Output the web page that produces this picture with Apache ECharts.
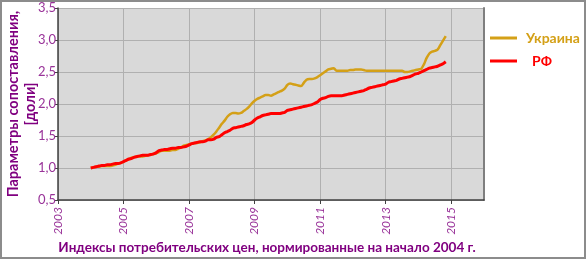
<!DOCTYPE html>
<html><head><meta charset="utf-8">
<script src="https://cdn.jsdelivr.net/npm/echarts@6/dist/echarts.min.js"></script>
<style>html,body{margin:0;padding:0;background:#fff}#c{width:586px;height:259px}</style>
</head><body><div id="c"></div>
<script>
// Monthly values, Jan 2004 .. Nov 2014
const startYear = 2004;
const ukraine = [
 1.00,1.01,1.02,1.02,1.03,1.03,1.03,1.03,1.04,1.05,1.07,1.08,
 1.10,1.12,1.14,1.16,1.17,1.18,1.18,1.18,1.19,1.20,1.21,1.22,
 1.23,1.25,1.27,1.27,1.27,1.27,1.28,1.28,1.30,1.32,1.35,1.36,
 1.37,1.38,1.39,1.39,1.40,1.42,1.43,1.45,1.48,1.52,1.57,1.63,
 1.69,1.74,1.80,1.84,1.86,1.86,1.85,1.86,1.89,1.92,1.96,2.01,
 2.05,2.08,2.10,2.12,2.14,2.14,2.13,2.15,2.17,2.19,2.21,2.24,
 2.30,2.32,2.31,2.30,2.29,2.28,2.33,2.38,2.39,2.39,2.40,2.42,
 2.45,2.48,2.51,2.54,2.55,2.56,2.52,2.52,2.52,2.52,2.52,2.53,
 2.53,2.54,2.54,2.54,2.53,2.52,2.52,2.52,2.52,2.52,2.52,2.52,
 2.52,2.52,2.52,2.52,2.52,2.52,2.52,2.50,2.50,2.51,2.52,2.53,
 2.54,2.55,2.62,2.72,2.79,2.82,2.83,2.85,2.92,2.99,3.06
];
const russia = [
 1.00,1.01,1.02,1.03,1.04,1.04,1.05,1.05,1.06,1.07,1.07,1.08,
 1.10,1.12,1.14,1.15,1.17,1.18,1.19,1.20,1.20,1.20,1.21,1.22,
 1.24,1.27,1.28,1.29,1.29,1.30,1.31,1.31,1.32,1.32,1.33,1.34,
 1.36,1.38,1.39,1.40,1.41,1.41,1.42,1.44,1.44,1.45,1.48,1.49,
 1.52,1.55,1.57,1.59,1.62,1.63,1.64,1.65,1.66,1.68,1.69,1.71,
 1.75,1.78,1.80,1.82,1.83,1.84,1.85,1.85,1.85,1.85,1.86,1.87,
 1.90,1.91,1.92,1.93,1.94,1.95,1.96,1.97,1.98,1.99,2.01,2.03,
 2.07,2.09,2.10,2.12,2.13,2.13,2.13,2.13,2.13,2.14,2.15,2.16,
 2.17,2.18,2.19,2.20,2.21,2.23,2.25,2.26,2.27,2.28,2.29,2.30,
 2.31,2.34,2.35,2.36,2.37,2.39,2.40,2.41,2.42,2.43,2.45,2.47,
 2.48,2.50,2.52,2.54,2.56,2.57,2.58,2.59,2.61,2.63,2.66
];
const seriesNames = ['Украина', 'РФ'];
const yTitle = 'Параметры сопоставления,\n[доли]';
const xTitle = 'Индексы потребительских цен, нормированные на начало 2004 г.';

const toPairs = arr => arr.map((v, i) => [startYear + i / 12, v]);
const FONT = 'Lato, "Noto Sans", sans-serif';
const chart = echarts.init(document.getElementById('c'), null, {renderer: 'canvas'});
chart.setOption({
  animation: false,
  backgroundColor: '#fff',
  textStyle: {fontFamily: FONT},
  graphic: [{type: 'rect', shape: {x: 1, y: 1, width: 584, height: 257},
    style: {fill: 'none', stroke: '#8c8c8c', lineWidth: 2}, silent: true, z: 100}],
  grid: {left: 58, right: 102, top: 8, bottom: 59, show: true, containLabel: false,
    outerBoundsMode: 'none',
    backgroundColor: '#d9d9d9', borderWidth: 0},
  legend: {
    orient: 'vertical', left: 490, top: 31, itemWidth: 27, itemHeight: 3, itemGap: 9,
    padding: 0,
    icon: 'rect',
    textStyle: {fontFamily: FONT, fontSize: 14, fontWeight: 'bold', lineHeight: 14},
    data: [
      {name: seriesNames[0], textStyle: {color: '#d4a017', padding: [0, 0, 0, 4]}},
      {name: seriesNames[1], textStyle: {color: '#ff0000', padding: [0, 0, 0, 10]}}
    ]
  },
  xAxis: {
    type: 'value', min: 2003, max: 2016, interval: 2,
    name: xTitle, nameLocation: 'middle', nameGap: 41, nameMoveOverlap: false,
    nameTextStyle: {color: '#800080', fontSize: 13.5, fontWeight: 'bold', fontFamily: FONT,
      padding: [0, 8, 0, 0]},
    axisLine: {lineStyle: {color: '#404040', width: 1.5}},
    axisTick: {show: true, length: 4, lineStyle: {color: '#404040'}},
    axisLabel: {rotate: 90, margin: 7, color: '#993399', fontSize: 12, fontStyle: 'italic',
      showMaxLabel: false, formatter: v => String(v)},
    splitLine: {show: true, lineStyle: {color: '#b0b0b0', width: 1}}
  },
  yAxis: [{
    type: 'value', min: 0.5, max: 3.5, interval: 0.5,
    name: yTitle, nameLocation: 'middle', nameGap: 19, nameRotate: 90, nameMoveOverlap: false,
    nameTextStyle: {color: '#800080', fontSize: 14.5, fontWeight: 'bold', lineHeight: 17, fontFamily: FONT},
    axisLine: {show: true, lineStyle: {color: '#404040', width: 1.5}},
    axisTick: {show: true, length: 3, lineStyle: {color: '#404040'}},
    axisLabel: {margin: 2, color: '#993399', fontSize: 13,
      formatter: v => v.toFixed(1).replace('.', ',')},
    splitLine: {show: true, lineStyle: {color: '#b0b0b0', width: 1}}
  }, {
    type: 'value', min: 0.5, max: 3.5, interval: 0.5, position: 'right',
    axisLine: {show: true, lineStyle: {color: '#7f7f7f', width: 2}},
    axisTick: {show: false}, axisLabel: {show: false}, splitLine: {show: false}
  }],
  series: [
    {name: seriesNames[0], type: 'line', data: toPairs(ukraine), showSymbol: false, smooth: 0.3,
      lineStyle: {color: '#d4a017', width: 2.5}, itemStyle: {color: '#d4a017'}},
    {name: seriesNames[1], type: 'line', data: toPairs(russia), showSymbol: false, smooth: 0.3,
      lineStyle: {color: '#ff0000', width: 3}, itemStyle: {color: '#ff0000'}}
  ]
});
</script></body></html>
